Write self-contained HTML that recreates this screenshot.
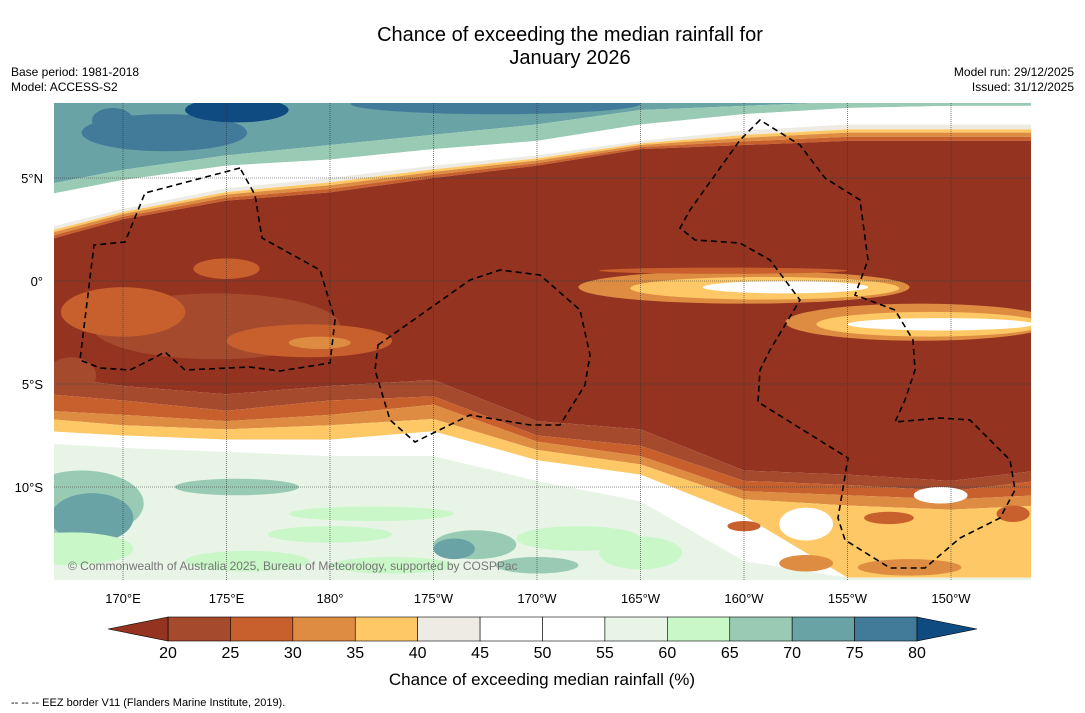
<!DOCTYPE html>
<html><head><meta charset="utf-8"><style>
body{margin:0;background:#fff;font-family:"Liberation Sans","DejaVu Sans",sans-serif;}
#wrap{position:relative;width:1085px;height:713px;overflow:hidden;background:#fff;}
</style></head><body>
<div id="wrap">
<svg id="svg" width="1085" height="713" xmlns="http://www.w3.org/2000/svg">
<text x="570" y="41" text-anchor="middle" font-size="20" fill="#000">Chance of exceeding the median rainfall for</text>
<text x="570" y="64" text-anchor="middle" font-size="20" fill="#000">January 2026</text>
<text x="11" y="76" font-size="12">Base period: 1981-2018</text>
<text x="11" y="91" font-size="12">Model: ACCESS-S2</text>
<text x="1074" y="76" font-size="12" text-anchor="end">Model run: 29/12/2025</text>
<text x="1074" y="91" font-size="12" text-anchor="end">Issued: 31/12/2025</text>
<defs><clipPath id="mc"><rect x="54" y="103" width="977" height="477"/></clipPath></defs>
<g id="map" clip-path="url(#mc)"></g>
<g id="axes"></g>
<g id="cbar"></g>
<text x="542" y="685" text-anchor="middle" font-size="17">Chance of exceeding median rainfall (%)</text>
<text x="11" y="706" font-size="11">--  --  -- EEZ border V11 (Flanders Marine Institute, 2019).</text>
</svg>
</div>
<script>
// Colorbar data
const levels=[20,25,30,35,40,45,50,55,60,65,70,75,80];
const binColors=["#a64a2e","#c8602e","#de8c42","#fdc865","#eeebe4","#ffffff","#ffffff","#e8f4e6","#c9f7c8","#99cbb4","#6aa3a5","#427a9a"];
const underColor="#94331f", overColor="#0f4a80";
// Map latitude profiles (deg, south negative) at these longitudes (deg east)
const lons=[166.4,170,175,180,185,190,195,200,205,210,214.2];
const nTeal   =[4.7,5.4,6.1,6.6,7.1,7.6,8.3,8.5,8.7,8.7,8.7];
const nWhite  =[4.2,4.9,5.6,5.9,6.4,6.8,7.6,8.1,8.4,8.5,8.5];
const nOrange =[2.6,3.5,4.5,5.0,5.6,6.1,6.8,7.3,7.6,7.6,7.6];
const nDark   =[2.0,3.0,3.9,4.3,5.0,5.6,6.4,6.6,6.8,6.8,6.8];
const sDark   =[-4.6,-5.1,-5.5,-5.1,-4.8,-6.8,-7.2,-9.2,-9.4,-9.7,-9.2];
const sRust   =[-5.5,-5.8,-6.3,-5.8,-5.6,-7.5,-8.0,-9.7,-9.9,-10.2,-9.7];
const sOrange =[-6.3,-6.5,-6.8,-6.5,-6.0,-7.8,-8.5,-10.2,-10.4,-10.6,-10.4];
const sLight  =[-6.7,-7.0,-7.2,-7.0,-6.7,-8.2,-8.9,-10.6,-10.9,-11.1,-10.9];
const sYellow =[-7.3,-7.5,-7.7,-7.7,-7.3,-8.7,-9.4,-11.4,-14.4,-14.4,-14.4];
const sWhite  =[-7.9,-8.1,-8.3,-8.5,-8.5,-9.7,-10.7,-13.6,-14.4,-14.4,-14.4];
// Blobs: [lon, lat, rxDeg, ryDeg, colorIndex]
const blobs=[
 [174.5,-2.2,6,1.6,0],[170,-1.5,3,1.2,1],[175,0.6,1.6,0.5,1],[179,-2.9,4,0.8,1],[179.5,-3,1.5,0.3,2],
 [167.5,-4.6,1.2,0.9,0],
 [200,-0.3,8,0.8,2],[201,-0.35,6.5,0.55,3],[202,-0.3,4,0.3,5],[208.5,-2.0,6.5,0.9,2],[209,-2.1,5.5,0.6,3],[209.5,-2.1,4.5,0.3,5],[199,0.5,6,0.15,1],
 [172,7.2,4,0.9,11],[175.5,8.3,2.5,0.6,12],[188,8.6,7,0.5,11],[169.5,7.8,1,0.6,11],
 [168,-10.8,3,1.6,9],[168.5,-11.5,2,1.2,10],[167.5,-13,3,0.8,8],
 [175.5,-10,3,0.4,9],[187,-12.8,2,0.7,9],[186,-13,1,0.5,10],[180,-12.3,3,0.4,8],[182,-11.3,4,0.35,8],
 [176,-13.6,3,0.5,8],[192,-12.5,3,0.6,8],[190,-13.8,2,0.4,9],[195,-13.2,2,0.8,8],[183,-13.8,3,0.4,8],
 [203,-11.8,1.3,0.8,5],[209.5,-10.4,1.3,0.4,5],[207,-11.5,1.2,0.3,1],[200,-11.9,0.8,0.25,1],[213,-11.3,0.8,0.4,1],
 [203,-13.7,1.3,0.4,2],[208,-13.9,2.5,0.4,2]
];
const topB=lons.map(()=>9.5), botB=lons.map(()=>-15);
function xS(lon){return 330+(lon-180)*20.7;}
function yS(lat){return 281-lat*20.6;}
const NS="http://www.w3.org/2000/svg";
const map=document.getElementById('map');
function band(t,b,col,name){
  let d="";
  for(let i=0;i<lons.length;i++){d+=(i?"L":"M")+xS(lons[i])+","+yS(t[i]);}
  for(let i=lons.length-1;i>=0;i--){d+="L"+xS(lons[i])+","+yS(b[i]);}
  const p=document.createElementNS(NS,'path');
  p.setAttribute('d',d+"Z");p.setAttribute('fill',col);
  
  
  map.appendChild(p);
}
const mid=(a,b,t)=>a.map((v,i)=>v+(b[i]-v)*t);
band(topB,nTeal,binColors[10],'north-teal-region');
band(nTeal,nWhite,binColors[9],'north-green-band');
band(nWhite,nOrange,binColors[5],'north-white-band');
band(nOrange,mid(nOrange,nDark,0.3),binColors[4],'north-gray-band');
band(mid(nOrange,nDark,0.3),mid(nOrange,nDark,0.5),binColors[3],'north-yellow-band');
band(mid(nOrange,nDark,0.5),mid(nOrange,nDark,0.75),binColors[2],'north-lightorange-band');
band(mid(nOrange,nDark,0.75),nDark,binColors[1],'north-orange-band');
band(nDark,sDark,underColor,'dark-dry-band');
band(sDark,sRust,binColors[0],'south-rust-band');
band(sRust,sOrange,binColors[1],'south-orange-band');
band(sOrange,sLight,binColors[2],'south-lightorange-band');
band(sLight,sYellow,binColors[3],'south-yellow-band');
band(sYellow,sWhite,binColors[5],'south-white-band');
band(sWhite,botB,binColors[7],'south-palegreen-region');
blobs.forEach(b=>{
  const e=document.createElementNS(NS,'ellipse');
  e.setAttribute('cx',xS(b[0]));e.setAttribute('cy',yS(b[1]));
  e.setAttribute('rx',b[2]*20.7);e.setAttribute('ry',b[3]*20.6);
  e.setAttribute('fill',b[4]>=12?overColor:binColors[b[4]]);
  
  
  map.appendChild(e);
});
// EEZ borders (pixel overlay)
const eez=["M240,168L145,193L125,242L94,245L80,360L100,368L130,370L150,360L165,352L185,370L250,367L280,371L330,363L335,320L320,270L262,238L255,195Z",
"M378,345L470,280L500,270L540,275L580,310L590,355L585,385L560,425L530,425L470,415L415,442L390,420L375,370Z",
"M760,120L740,140L690,210L680,228L695,240L740,243L770,260L800,300L770,350L760,370L758,402L848,458L838,518L845,540L890,568L925,568L960,538L1000,518L1015,490L1010,460L970,420L940,418L895,422L905,400L915,370L913,340L895,310L855,295L868,260L860,200L825,178L800,145Z"];
eez.forEach(d=>{const p=document.createElementNS(NS,'path');p.setAttribute('d',d);p.setAttribute('fill','none');p.setAttribute('stroke','#000');p.setAttribute('stroke-width','1.6');p.setAttribute('stroke-dasharray','6,4');


map.appendChild(p);});
// grid
const axes=document.getElementById('axes');
const latTicks=[5,0,-5,-10], latLbl=["5°N","0°","5°S","10°S"];
const lonTicks=[170,175,180,185,190,195,200,205,210], lonLbl=["170°E","175°E","180°","175°W","170°W","165°W","160°W","155°W","150°W"];
latTicks.forEach((v,i)=>{
  const l=document.createElementNS(NS,'line');l.setAttribute('x1',54);l.setAttribute('x2',1031);l.setAttribute('y1',yS(v));l.setAttribute('y2',yS(v));l.setAttribute('stroke','#333');l.setAttribute('stroke-width','0.6');l.setAttribute('stroke-dasharray','1,1');
  
  
  map.appendChild(l);
  const t=document.createElementNS(NS,'text');t.setAttribute('x',43);t.setAttribute('y',yS(v)+5);t.setAttribute('text-anchor','end');t.setAttribute('font-size','13');t.textContent=latLbl[i];
  
  
  axes.appendChild(t);
});
lonTicks.forEach((v,i)=>{
  const l=document.createElementNS(NS,'line');l.setAttribute('y1',103);l.setAttribute('y2',580);l.setAttribute('x1',xS(v));l.setAttribute('x2',xS(v));l.setAttribute('stroke','#333');l.setAttribute('stroke-width','0.6');l.setAttribute('stroke-dasharray','1,1');
  
  
  map.appendChild(l);
  const t=document.createElementNS(NS,'text');t.setAttribute('x',xS(v));t.setAttribute('y',603);t.setAttribute('text-anchor','middle');t.setAttribute('font-size','13');t.textContent=lonLbl[i];
  
  
  axes.appendChild(t);
});
const cr=document.createElementNS(NS,'text');cr.setAttribute('x',68);cr.setAttribute('y',570);cr.setAttribute('font-size','12');cr.setAttribute('fill','#777');
cr.textContent="© Commonwealth of Australia 2025, Bureau of Meteorology, supported by COSPPac";


map.appendChild(cr);
// colorbar
const cb=document.getElementById('cbar');
const cx0=168,cx1=917,cy0=617,cy1=641;
function cX(v){return cx0+(v-levels[0])/(levels[levels.length-1]-levels[0])*(cx1-cx0);}
binColors.forEach((c,i)=>{
  const r=document.createElementNS(NS,'rect');r.setAttribute('x',cX(levels[i]));r.setAttribute('y',cy0);r.setAttribute('width',cX(levels[i+1])-cX(levels[i]));r.setAttribute('height',cy1-cy0);r.setAttribute('fill',c);r.setAttribute('stroke','#000');r.setAttribute('stroke-width','0.6');
  
  
  cb.appendChild(r);
});
const t1=document.createElementNS(NS,'polygon');t1.setAttribute('points',`${cx0},${cy0} 108,${(cy0+cy1)/2} ${cx0},${cy1}`);t1.setAttribute('fill',underColor);t1.setAttribute('stroke','#000');t1.setAttribute('stroke-width','0.6');


cb.appendChild(t1);
const t2=document.createElementNS(NS,'polygon');t2.setAttribute('points',`${cx1},${cy0} 977,${(cy0+cy1)/2} ${cx1},${cy1}`);t2.setAttribute('fill',overColor);t2.setAttribute('stroke','#000');t2.setAttribute('stroke-width','0.6');


cb.appendChild(t2);
levels.forEach(v=>{
  const t=document.createElementNS(NS,'text');t.setAttribute('x',cX(v));t.setAttribute('y',658);t.setAttribute('text-anchor','middle');t.setAttribute('font-size','16');t.textContent=v;
  
  
  cb.appendChild(t);
});
</script>
</body></html>
